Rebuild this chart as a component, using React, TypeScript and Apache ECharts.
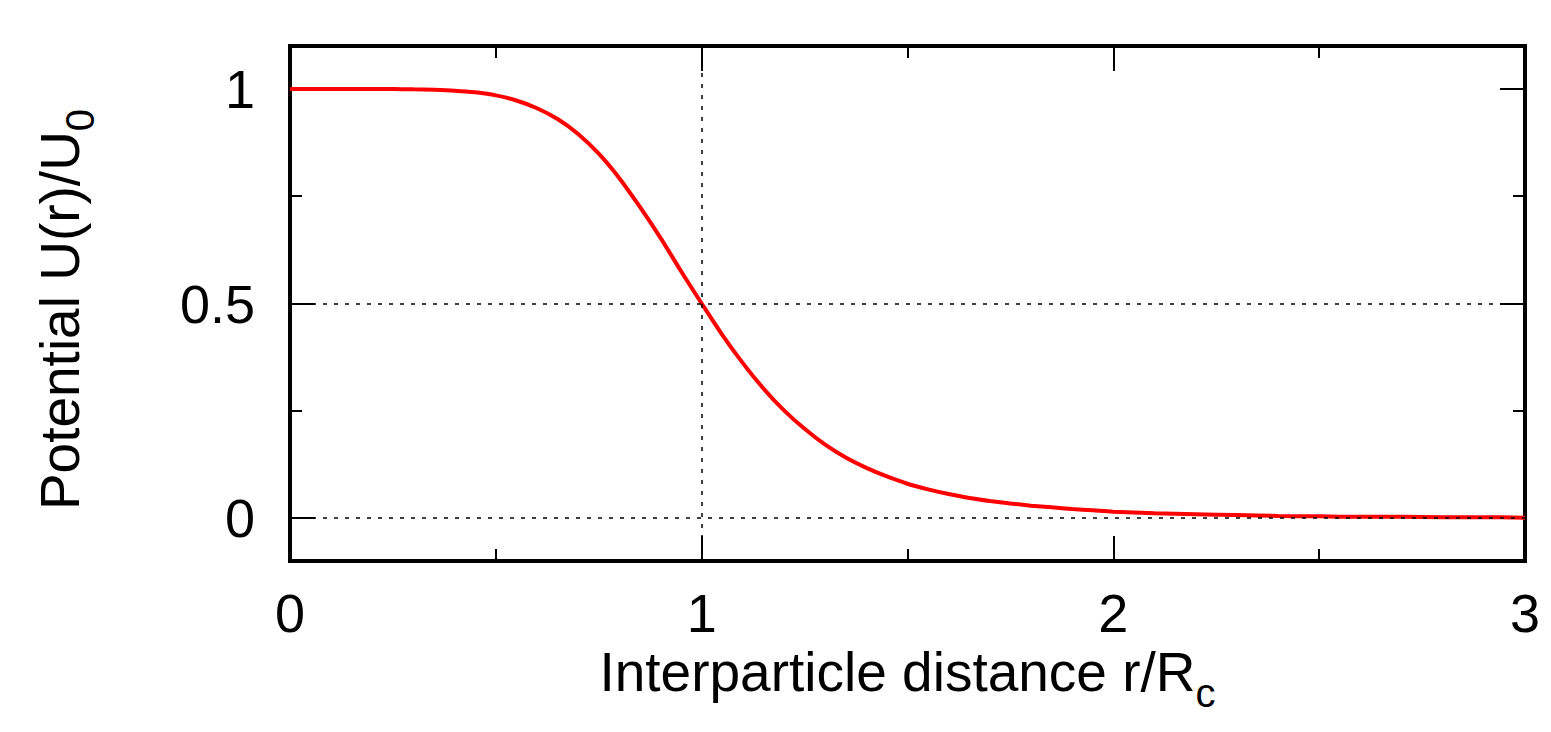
import React, { useEffect, useRef } from 'react';
import * as echarts from 'echarts';

// Interparticle distance r/Rc
const rValues = [
  0, 0.05, 0.1, 0.15, 0.2, 0.25, 0.3, 0.35, 0.4, 0.45,
  0.5, 0.55, 0.6, 0.65, 0.7, 0.75, 0.8, 0.85, 0.9, 0.95,
  1.0, 1.05, 1.1, 1.15, 1.2, 1.25, 1.3, 1.35, 1.4, 1.45,
  1.5, 1.55, 1.6, 1.65, 1.7, 1.75, 1.8, 1.85, 1.9, 1.95,
  2.0, 2.1, 2.2, 2.3, 2.4, 2.5, 2.6, 2.7, 2.8, 2.9, 3.0,
];
// Potential U(r)/U0
const uValues = [
  1.0, 1.0, 1.0, 1.0, 1.0, 1.0, 0.999, 0.998, 0.996, 0.992,
  0.985, 0.973, 0.955, 0.93, 0.895, 0.849, 0.792, 0.725, 0.653, 0.575,
  0.5, 0.427, 0.361, 0.302, 0.251, 0.208, 0.171, 0.141, 0.117, 0.097,
  0.08, 0.067, 0.056, 0.047, 0.04, 0.034, 0.029, 0.025, 0.021, 0.018,
  0.015, 0.011, 0.009, 0.007, 0.005, 0.004, 0.003, 0.003, 0.002, 0.002, 0.001,
];

const xTickValues = [0, 1, 2, 3];
const yTickValues = [0, 0.5, 1];
const yMinorTickValues = [0.25, 0.75];
const guideX = [1];
const guideY = [0, 0.5];

const xTitle = 'Interparticle distance r/R';
const xTitleSub = 'c';
const yTitle = 'Potential U(r)/U';
const yTitleSub = '0';

const FONT = "'Liberation Sans', Arial, Helvetica, sans-serif";

const richStyles = {
  m: { fontSize: 55, fontFamily: FONT, color: '#000', lineHeight: 72, height: 55, verticalAlign: 'top' },
  sub: { fontSize: 40, fontFamily: FONT, color: '#000', lineHeight: 72, height: 40, padding: [28, 0, 0, 0], verticalAlign: 'top' },
};

export default function App() {
  const ref = useRef<HTMLDivElement>(null);

  useEffect(() => {
    document.body.style.margin = '0';
    const chart = echarts.init(ref.current!, null, { renderer: 'svg' });

    const tickStyle = { color: '#000', width: 2 };
    const labelStyle = { fontSize: 54, fontFamily: FONT, color: '#000', lineHeight: 54 };

    const xBase: any = {
      type: 'value',
      min: 0,
      max: 3,
      interval: 1,
      splitLine: { show: false },
      minorSplitLine: { show: false },
      axisLine: { show: false, onZero: false },
      axisTick: { show: true, inside: true, length: 25, lineStyle: tickStyle },
      minorTick: { show: true, splitNumber: 2, length: 12, lineStyle: tickStyle },
    };

    const yBase = (position: string, major: boolean, withLabel: boolean): any => ({
      type: 'value',
      position,
      min: -0.1,
      max: 1.1,
      splitLine: { show: false },
      axisLine: { show: false, onZero: false },
      axisTick: {
        show: true,
        inside: true,
        length: major ? 25 : 12,
        lineStyle: tickStyle,
        customValues: major ? yTickValues : yMinorTickValues,
      },
      axisLabel: withLabel
        ? { show: true, ...labelStyle, margin: 35, customValues: yTickValues, formatter: (v: number) => String(v) }
        : { show: false },
    });

    const leftMajor = {
      ...yBase('left', true, true),
      name: `{m|${yTitle}}{sub|${yTitleSub}}`,
      nameLocation: 'middle',
      nameRotate: 90,
      nameGap: 186,
      nameTextStyle: { rich: richStyles, padding: [0, 12, 0, 0] },
    };

    const option: any = {
      animation: false,
      backgroundColor: '#fff',
      grid: {
        left: 290,
        right: 26,
        top: 46,
        bottom: 171,
        show: true,
        borderColor: '#000',
        borderWidth: 4,
        backgroundColor: 'transparent',
        containLabel: false,
        outerBoundsMode: 'none',
      },
      xAxis: [
        {
          ...xBase,
          position: 'bottom',
          axisLabel: {
            show: true,
            ...labelStyle,
            margin: 25,
            customValues: xTickValues,
            formatter: (v: number) => String(v),
          },
          name: `{m|${xTitle}}{sub|${xTitleSub}}`,
          nameLocation: 'middle',
          nameGap: 78,
          nameTextStyle: { rich: richStyles },
        },
        { ...xBase, position: 'top', axisLabel: { show: false } },
      ],
      yAxis: [
        leftMajor,
        yBase('left', false, false),
        yBase('right', true, false),
        yBase('right', false, false),
      ],
      series: [
        {
          type: 'line',
          xAxisIndex: 0,
          yAxisIndex: 0,
          data: rValues.map((r, i) => [r, uValues[i]]),
          showSymbol: false,
          smooth: 0.3,
          lineStyle: { color: '#ff0000', width: 4 },
          z: 3,
          markLine: {
            silent: true,
            symbol: ['none', 'none'],
            label: { show: false },
            lineStyle: { color: '#000', width: 1.5, type: [4, 7] },
            data: [
              ...guideX.map((v) => ({ xAxis: v })),
              ...guideY.map((v) => ({ yAxis: v })),
            ],
          },
        },
      ],
    };

    chart.setOption(option);
    return () => chart.dispose();
  }, []);

  return <div ref={ref} style={{ width: 1551, height: 732, background: '#fff' }} />;
}
